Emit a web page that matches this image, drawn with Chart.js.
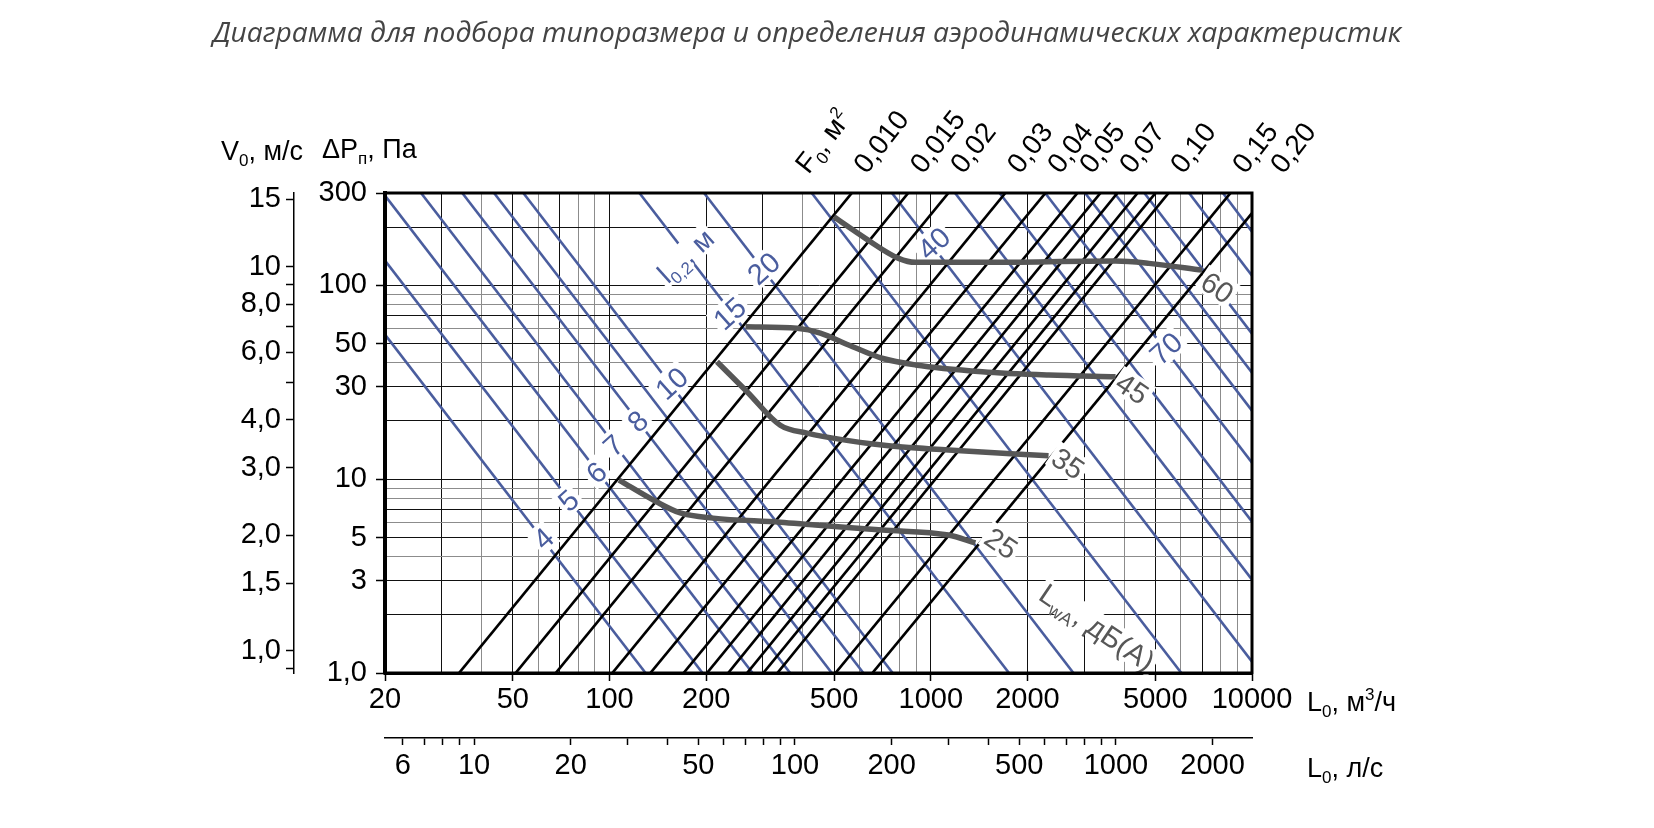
<!DOCTYPE html>
<html>
<head>
<meta charset="utf-8">
<script src="https://cdn.jsdelivr.net/npm/chart.js@4.4.1/dist/chart.umd.min.js"></script>
<style>
  html, body { margin: 0; padding: 0; background: #fff; }
  #chart { display: block; }
</style>
</head>
<body>
<canvas id="chart" width="1654" height="828"></canvas>
<script>
// axis ticks
const flowTicks = [20, 30, 40, 50, 60, 70, 80, 90, 100, 200, 300, 400, 500, 600, 700, 800, 900,
  1000, 2000, 3000, 4000, 5000, 6000, 7000, 8000, 9000, 10000];
const flowLabeled = [20, 50, 100, 200, 500, 1000, 2000, 5000, 10000];
const lpsTicks = [6, 7, 8, 9, 10, 20, 30, 40, 50, 60, 70, 80, 90, 100, 200, 300, 400, 500, 600,
  700, 800, 900, 1000, 2000];
const lpsLabeled = [6, 10, 20, 50, 100, 200, 500, 1000, 2000];
const dpTicks = [1, 2, 3, 4, 5, 6, 7, 8, 9, 10, 20, 30, 40, 50, 60, 70, 80, 90, 100, 200, 300];
const dpLabeled = [1, 3, 5, 10, 30, 50, 100, 300];
const velTicks = [0.9, 1, 1.5, 2, 3, 4, 5, 6, 7, 8, 9, 10, 15];
const velLabeled = [1, 1.5, 2, 3, 4, 6, 8, 10, 15];

// F0 lines (black): flow at dP = 1 Pa and at dP = 300 Pa
const f0Labels = ["0,010", "0,015", "0,02", "0,03", "0,04", "0,05", "", "0,07", "", "", "0,10", "0,15", "0,20"];
const f0FlowLow = [34, 51, 68, 102, 134, 170, 201, 234, 268, 301, 333, 505, 658];
const f0FlowHigh = [568, 851, 1135, 1707, 2276, 2862, 3376, 3812, 4405, 5010, 5500, 8577, 11265];

// l0,2 lines (blue): start and end points
const throwFlowStart = [20, 20, 20, 25.9, 34.8, 43.7, 53.9, 123.9, 196.9, 426, 757, 1190, 1638, 2270, 3023, 3728, 4622, 6369, 8118];
const throwDpStart = [55.8, 134.5, 291, 300, 300, 300, 300, 300, 300, 300, 300, 300, 300, 300, 300, 300, 300, 300, 300];
const throwFlowEnd = [129.5, 194.8, 278.8, 365, 492, 617, 761, 1752, 2781, 6027, 10000, 10000, 10000, 10000, 10000, 10000, 10000, 10000, 10000];
const throwDpEnd = [1, 1, 1, 1, 1, 1, 1, 1, 1, 1, 1.145, 3.03, 6.04, 12.18, 22.6, 35.5, 56.4, 112.4, 189.5];
const throwLabels = ["4", "5", "6", "7", "8", "10", "15", "20", "40", "70"];
const throwLabelFlow = [62.1, 74.3, 90.8, 102.6, 122, 155.6, 236, 301, 1019, 5383];
const throwLabelDp = [4.97, 7.81, 10.9, 15.0, 20.0, 31.4, 72.0, 123, 165.5, 47.5];

// LwA curves (gray)
const lwa25Flow = [107, 140, 166, 210, 340, 437, 705, 1135, 1377];
const lwa25Dp = [9.9, 7.65, 6.7, 6.3, 6.0, 5.8, 5.47, 5.15, 4.69];
const lwa35Flow = [216, 268, 340, 412, 705, 1135, 2326];
const lwa35Dp = [40.4, 28.3, 19.0, 17.3, 15.0, 14.15, 13.2];
const lwa45Flow = [265, 384, 453, 555, 705, 896, 1445, 2331, 3760];
const lwa45Dp = [61.2, 60.1, 56.8, 49.3, 42.1, 38.9, 35.9, 34.5, 33.8];
const lwa60Flow = [499, 626, 794, 896, 1445, 3760, 4776, 7001];
const lwa60Dp = [226, 175, 138, 131.6, 131.6, 133.6, 130, 120];
const lwaLabels = ["25", "35", "45", "60"];
const lwaLabelFlow = [1660, 2683, 4248, 7816];
const lwaLabelDp = [4.69, 12.1, 29.5, 98.1];

const BLUE = "#4a5d9e";
const GRAY = "#575757";
const FONT = "'Liberation Sans', Arial, sans-serif";

const gridColor = (v) => {
  if (!v) return "#111";
  const m = Math.round(v / Math.pow(10, Math.floor(Math.log10(v) + 1e-9)));
  return [4, 6, 8, 9].includes(m) ? "#8c8c8c" : "#111";
};
const comma = (v) => (v < 10 ? v.toFixed(1).replace(".", ",") : String(v));

const toPts = (xs, ys) => xs.map((x, i) => ({ x: x, y: ys[i] }));

const datasets = [];
[[lwa25Flow, lwa25Dp], [lwa35Flow, lwa35Dp], [lwa45Flow, lwa45Dp], [lwa60Flow, lwa60Dp]].forEach(([f, d]) => {
  datasets.push({
    kind: "lwa", data: toPts(f, d), borderColor: GRAY, borderWidth: 5.5,
    cubicInterpolationMode: "monotone", order: 1,
  });
});
f0FlowLow.forEach((lo, i) => {
  datasets.push({
    kind: "f0", data: [{ x: lo, y: 1 }, { x: f0FlowHigh[i], y: 300 }],
    borderColor: "#000", borderWidth: 2.7, order: 2,
  });
});
throwFlowStart.forEach((s, i) => {
  datasets.push({
    kind: "throw",
    data: [{ x: s, y: throwDpStart[i] }, { x: throwFlowEnd[i], y: throwDpEnd[i] }],
    borderColor: BLUE, borderWidth: 2.6, order: 3,
  });
});

// rich text: parts = [[text, mode]], mode 0 normal, 1 sub, 2 sup
const partFont = (m, size, style) => (style || "") + " " + Math.round(m ? size * 0.62 : size) + "px " + FONT;
const richWidth = (ctx, parts, size, style) => parts.reduce((w, [t, m]) => {
  ctx.font = partFont(m, size, style);
  return w + ctx.measureText(t).width;
}, 0);
const drawRich = (ctx, parts, x, y, size, color, style) => {
  ctx.fillStyle = color;
  ctx.textAlign = "left";
  ctx.textBaseline = "alphabetic";
  let cx = x;
  parts.forEach(([t, m]) => {
    ctx.font = partFont(m, size, style);
    const dy = m === 1 ? size * 0.22 : m === 2 ? -size * 0.4 : 0;
    ctx.fillText(t, cx, y + dy);
    cx += ctx.measureText(t).width;
  });
};
const rotatedLabel = (ctx, parts, cx, cy, angle, size, color) => {
  ctx.save();
  ctx.translate(cx, cy);
  ctx.rotate(angle * Math.PI / 180);
  const w = richWidth(ctx, parts, size);
  ctx.fillStyle = "#fff";
  ctx.fillRect(-w / 2 - 3, -size * 0.48, w + 6, size * 0.96);
  drawRich(ctx, parts, -w / 2, size * 0.36, size, color);
  ctx.restore();
};

const annotations = {
  id: "annotations",
  beforeDatasetsDraw(chart) { chart.$blueDone = false; },
  beforeDatasetDraw(chart, args) {
    const kind = chart.data.datasets[args.index].kind;
    if (kind === "throw" || chart.$blueDone) return;
    chart.$blueDone = true;
    const ctx = chart.ctx, x = chart.scales.x, y = chart.scales.y;
    throwLabels.forEach((t, i) => {
      rotatedLabel(ctx, [[t, 0]], x.getPixelForValue(throwLabelFlow[i]), y.getPixelForValue(throwLabelDp[i]), -42, 29, BLUE);
    });
    rotatedLabel(ctx, [["l", 0], ["0,2", 1], [", м", 0]], x.getPixelForValue(172), y.getPixelForValue(143), -42, 28, BLUE);
  },
  afterDatasetsDraw(chart) {
    const ctx = chart.ctx, a = chart.chartArea, x = chart.scales.x, y = chart.scales.y;
    lwaLabels.forEach((t, i) => {
      rotatedLabel(ctx, [[t, 0]], x.getPixelForValue(lwaLabelFlow[i]), y.getPixelForValue(lwaLabelDp[i]), 34, 29, GRAY);
    });
    rotatedLabel(ctx, [["L", 0], ["wA", 1], [", дБ(A)", 0]], x.getPixelForValue(3305), y.getPixelForValue(1.73), 34, 29, GRAY);

    // frame
    ctx.save();
    ctx.strokeStyle = "#000";
    ctx.lineWidth = 3;
    ctx.strokeRect(a.left, a.top, a.right - a.left, a.bottom - a.top);
    ctx.lineWidth = 4;
    ctx.beginPath();
    ctx.moveTo(a.left, a.top - 1.5);
    ctx.lineTo(a.left, a.bottom + 1.5);
    ctx.stroke();
    ctx.restore();

    // F0 labels at the top ends of the black lines
    const top = y.getPixelForValue(300);
    const f0Label = (parts, flow) => {
      ctx.save();
      ctx.translate(x.getPixelForValue(flow) + 15, top - 18);
      ctx.rotate(-52 * Math.PI / 180);
      drawRich(ctx, parts, 0, 0, 28, "#000");
      ctx.restore();
    };
    f0Label([["F", 0], ["0", 1], [", м", 0], ["2", 2]], 374);
    f0Labels.forEach((t, i) => { if (t) f0Label([[t, 0]], f0FlowHigh[i]); });

    // axis titles
    drawRich(ctx, [["V", 0], ["0", 1], [", м/с", 0]], 221, 160, 27, "#000");
    drawRich(ctx, [["ΔP", 0], ["п", 1], [", Па", 0]], 322, 158, 27, "#000");
    drawRich(ctx, [["L", 0], ["0", 1], [", м", 0], ["3", 2], ["/ч", 0]], 1307, 711, 27, "#000");
    drawRich(ctx, [["L", 0], ["0", 1], [", л/с", 0]], 1307, 777, 27, "#000");

    // title
    const title = "Диаграмма для подбора типоразмера и определения аэродинамических характеристик";
    ctx.font = "italic 20px 'Open Sans', sans-serif";
    const size = 20 * 1188 / ctx.measureText(title).width;
    ctx.font = "italic " + size.toFixed(1) + "px 'Open Sans', sans-serif";
    ctx.fillStyle = "#444";
    ctx.textAlign = "center";
    ctx.textBaseline = "alphabetic";
    ctx.fillText(title, 807, 42);
  },
};

const tickFont = { family: FONT, size: 29 };

new Chart(document.querySelector("#chart").getContext("2d"), {
  type: "line",
  data: { datasets: datasets },
  options: {
    responsive: false,
    animation: false,
    devicePixelRatio: 1,
    layout: { padding: { left: 200, top: 193, right: 402, bottom: 30 } },
    plugins: { legend: { display: false }, tooltip: { enabled: false }, title: { display: false } },
    elements: { point: { radius: 0 }, line: { tension: 0, borderCapStyle: "butt" } },
    scales: {
      x: {
        type: "logarithmic", axis: "x", position: "bottom", min: 20, max: 10000, weight: 0,
        afterBuildTicks: (s) => { s.ticks = flowTicks.map((v) => ({ value: v })); },
        afterFit: (s) => { s.height = 65; },
        grid: {
          color: (c) => gridColor(c.tick && c.tick.value), lineWidth: 1, tickLength: 8, tickWidth: 1.5,
          tickColor: (c) => (c.tick && flowLabeled.includes(c.tick.value) ? "#000" : "rgba(0,0,0,0)"),
        },
        border: { display: true, color: "#000", width: 3 },
        ticks: {
          autoSkip: false, maxRotation: 0, minRotation: 0, padding: 2, color: "#000", font: tickFont,
          callback: (v) => (flowLabeled.includes(v) ? String(v) : ""),
        },
      },
      x2: {
        type: "logarithmic", axis: "x", position: "bottom", min: 5.28, max: 2655, weight: 1,
        afterBuildTicks: (s) => { s.ticks = lpsTicks.map((v) => ({ value: v })); },
        afterFit: (s) => { s.height = 60; },
        grid: { drawOnChartArea: false, tickLength: 7, tickWidth: 1.5, color: "#000", tickColor: "#000" },
        border: { display: true, color: "#000", width: 1.5 },
        ticks: {
          autoSkip: false, maxRotation: 0, minRotation: 0, padding: 4, color: "#000", font: tickFont,
          callback: (v) => (lpsLabeled.includes(v) ? String(v) : ""),
        },
      },
      y: {
        type: "logarithmic", axis: "y", position: "left", min: 1, max: 300, weight: 0,
        afterBuildTicks: (s) => { s.ticks = dpTicks.map((v) => ({ value: v })); },
        afterFit: (s) => { s.width = 91; },
        grid: {
          color: (c) => gridColor(c.tick && c.tick.value), lineWidth: 1, tickLength: 9, tickWidth: 1.5,
          tickColor: (c) => (c.tick && dpLabeled.includes(c.tick.value) ? "#000" : "rgba(0,0,0,0)"),
        },
        border: { display: true, color: "#000", width: 4 },
        ticks: {
          autoSkip: false, padding: 9, color: "#000", font: tickFont,
          callback: (v) => (dpLabeled.includes(v) ? (v === 1 ? "1,0" : String(v)) : ""),
        },
      },
      yV: {
        type: "logarithmic", axis: "y", position: "left", min: 0.876, max: 15.58, weight: 1,
        afterBuildTicks: (s) => { s.ticks = velTicks.map((v) => ({ value: v })); },
        afterFit: (s) => { s.width = 94; },
        grid: { drawOnChartArea: false, tickLength: 8, tickWidth: 1.5, color: "#000", tickColor: "#000" },
        border: { display: true, color: "#000", width: 1.5 },
        ticks: {
          autoSkip: false, padding: 5, color: "#000", font: tickFont,
          callback: (v) => (velLabeled.includes(v) ? comma(v) : ""),
        },
      },
    },
  },
  plugins: [annotations],
});
</script>
</body>
</html>
